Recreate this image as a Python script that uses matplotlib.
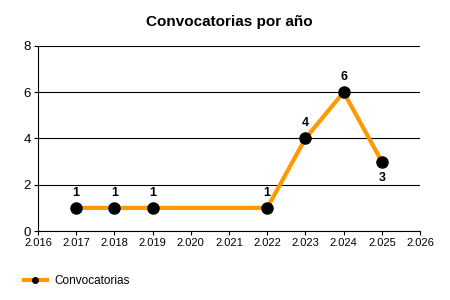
import matplotlib
matplotlib.use('AGG')
import matplotlib.pyplot as plt

plt.rcParams['font.family'] = ['Liberation Sans', 'DejaVu Sans']

# data
years = [2017, 2018, 2019, 2022, 2023, 2024, 2025]
counts = [1, 1, 1, 1, 4, 6, 3]
label_below = [False, False, False, False, False, False, True]
xticks = list(range(2016, 2027))
xtick_labels = ['2.%03d' % (y - 2000) for y in xticks]
yticks = [0, 2, 4, 6, 8]

fig = plt.figure(figsize=(4.5, 3), dpi=100)
ax = fig.add_axes([0.0844, 0.23, 0.849, 0.617])

ax.plot(years, counts, color='#FF9900', linewidth=3, marker='o',
        markersize=8, markerfacecolor='black', markeredgecolor='black',
        label='Convocatorias', zorder=3)

for x, y, below in zip(years, counts, label_below):
    off = -12 if below else 11
    ax.annotate(str(y), (x, y), xytext=(0, off), textcoords='offset points',
                ha='center', va='center', fontsize=9, fontweight='bold')

ax.set_xlim(2016, 2026)
ax.set_ylim(0, 8)
ax.set_xticks(xticks)
ax.set_xticklabels(xtick_labels, fontsize=8)
ax.set_yticks(yticks)
ax.set_yticklabels([str(v) for v in yticks], fontsize=9.5)
ax.grid(axis='y', color='black', linewidth=0.8)
ax.set_axisbelow(True)
for side in ['top', 'right']:
    ax.spines[side].set_visible(False)
ax.spines['left'].set_color('black')
ax.spines['bottom'].set_color('black')
ax.tick_params(length=3, width=0.8, pad=2)

ax.set_title('Convocatorias por año', fontsize=11, fontweight='bold', pad=14)

ax.legend(loc='lower left', bbox_to_anchor=(-0.05, -0.33), frameon=False,
          fontsize=8.5, handlelength=2.0, handletextpad=0.6,
          markerscale=0.5, borderaxespad=0)

fig.savefig('out.png')
